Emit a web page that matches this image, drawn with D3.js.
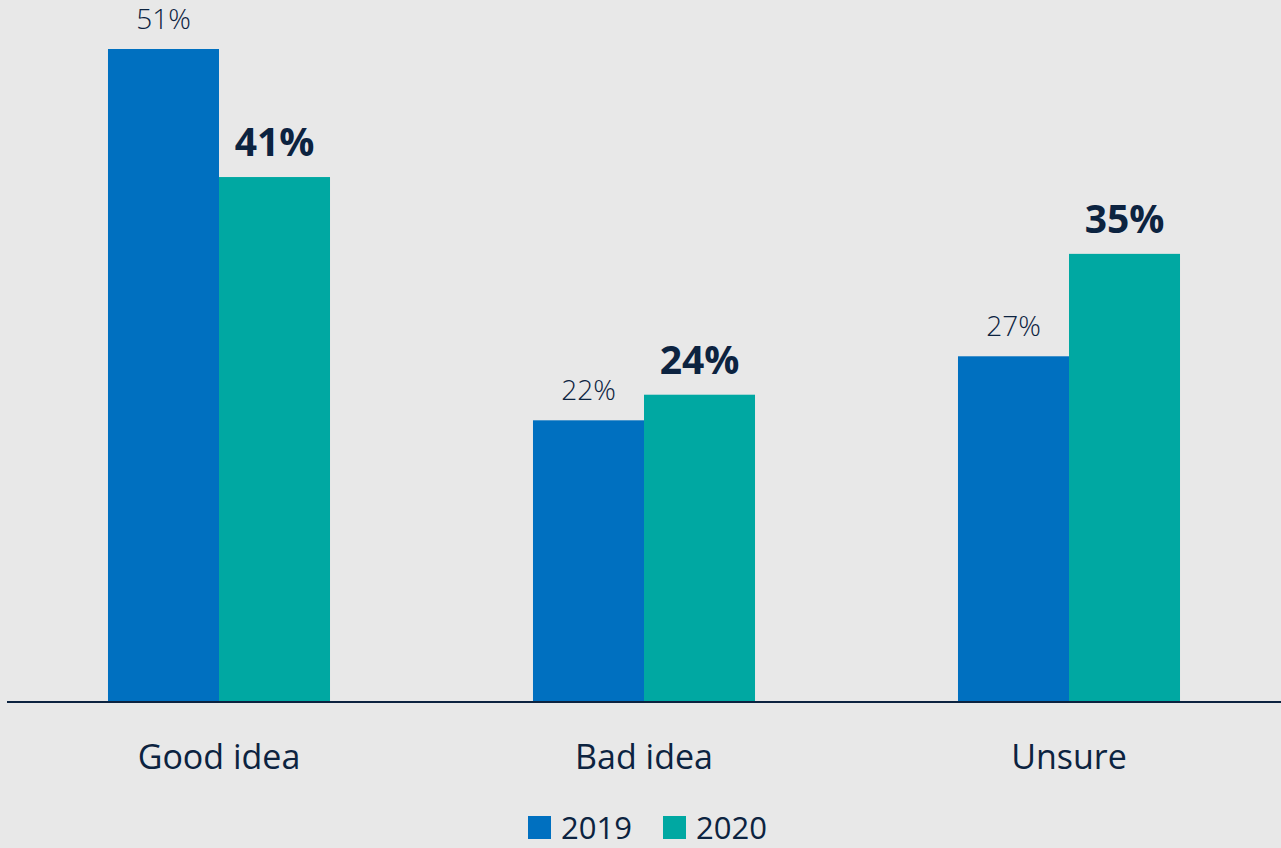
<!DOCTYPE html>
<html>
<head>
<meta charset="utf-8">
<script src="https://cdn.jsdelivr.net/npm/d3@7"></script>
<style>
  html, body { margin: 0; padding: 0; background: #e8e8e8; }
  svg { display: block; }
  text { font-family: "Open Sans", "Noto Sans", sans-serif; fill: #0c2340; }
</style>
</head>
<body>
<svg id="chart" width="1281" height="848"></svg>
<script>
const categories = ["Good idea", "Bad idea", "Unsure"];
const seriesNames = ["2019", "2020"];
const values2019 = [51, 22, 27];
const values2020 = [41, 24, 35];
const colors = ["#0070c0", "#00a8a2"];

const W = 1281, H = 848;
const baseline = 702;
const svg = d3.select("#chart");
svg.append("rect").attr("width", W).attr("height", H).attr("fill", "#e8e8e8");

const x = d3.scaleBand().domain(categories).range([6.5, 1281.5])
  .paddingInner(0.4776).paddingOuter(0.2388);
const xs = d3.scaleBand().domain(seriesNames).range([0, x.bandwidth()]);
const y = d3.scaleLinear().domain([0, 51]).range([baseline, 49]);

const data = categories.map((c, i) => ({cat: c, vals: [values2019[i], values2020[i]]}));

const g = svg.append("g");
const groups = g.selectAll("g.grp").data(data).join("g")
  .attr("transform", d => `translate(${x(d.cat)},0)`);

groups.selectAll("rect").data(d => d.vals.map((v, j) => ({v, s: seriesNames[j], j})))
  .join("rect")
  .attr("x", d => xs(d.s))
  .attr("width", xs.bandwidth())
  .attr("y", d => y(d.v))
  .attr("height", d => baseline - y(d.v))
  .attr("fill", d => colors[d.j]);

groups.selectAll("text.val").data(d => d.vals.map((v, j) => ({v, s: seriesNames[j], j})))
  .join("text")
  .attr("class", "val")
  .attr("x", d => xs(d.s) + xs.bandwidth() / 2)
  .attr("y", d => y(d.v) - (d.j === 0 ? 20 : 21))
  .attr("text-anchor", "middle")
  .style("font-size", d => d.j === 0 ? "28px" : "39px")
  .style("font-weight", d => d.j === 0 ? 300 : 700)
  .text(d => d.v + "%");

// axis
const axis = d3.axisBottom(x).tickSize(0).tickPadding(0);
const ax = svg.append("g").attr("transform", `translate(0,${baseline})`).call(axis);
ax.select(".domain").attr("d", `M7,0H1281`).attr("stroke", "#0c2340").attr("stroke-width", 2);
ax.selectAll(".tick text")
  .attr("y", 67).attr("dy", null)
  .style("font-size", "34px")
  .style("fill", "#0c2340")
  .style("font-family", '"Open Sans", sans-serif');

// legend
const legend = svg.append("g");
const legX = [528, 663];
seriesNames.forEach((s, i) => {
  legend.append("rect").attr("x", legX[i]).attr("y", 816).attr("width", 23).attr("height", 23).attr("fill", colors[i]);
  legend.append("text").attr("x", legX[i] + 33).attr("y", 839)
    .style("font-size", "31px").text(s);
});
</script>
</body>
</html>
